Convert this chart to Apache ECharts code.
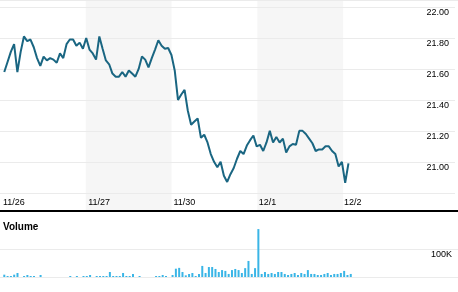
<!DOCTYPE html>
<html><head><meta charset="utf-8">
<script src="https://cdn.jsdelivr.net/npm/echarts@6/dist/echarts.min.js"></script>
<style>html,body{margin:0;padding:0;background:#fff}#c{width:458px;height:292px}</style>
</head><body><div id="c"></div>
<script>
// ---- data ----
const dayLabels = ['11/26', '11/27', '11/30', '12/1', '12/2'];
const shadedDays = [1, 3];            // indexes into dayLabels of shaded sessions
const slotsPerDay = 26;               // 15-minute intervals per session
const priceTickMin = 20.8, priceTickMax = 22.0, priceTickStep = 0.2;
const volumeTickLabel = '100K';
const price = [
  21.58, 21.645, 21.71, 21.76, 21.58, 21.71, 21.81, 21.78, 21.79, 21.74,
  21.67, 21.62, 21.68, 21.655, 21.67, 21.66, 21.64, 21.70, 21.67, 21.76,
  21.79, 21.79, 21.75, 21.77, 21.73, 21.80,
  21.725, 21.70, 21.66, 21.81, 21.73, 21.655, 21.63, 21.57, 21.55, 21.55,
  21.58, 21.55, 21.59, 21.57, 21.55, 21.60, 21.68, 21.66, 21.61, 21.67,
  21.725, 21.785, 21.75, 21.73, 21.735, 21.69,
  21.59, 21.40, 21.435, 21.465, 21.33, 21.24, 21.26, 21.28, 21.155, 21.175,
  21.125, 21.05, 21.00, 20.965, 21.00, 20.91, 20.87, 20.92, 20.96, 21.02,
  21.07, 21.05, 21.105, 21.14, 21.17, 21.10,
  21.11, 21.07, 21.125, 21.20, 21.125, 21.16, 21.125, 21.15, 21.06, 21.10,
  21.115, 21.11, 21.20, 21.20, 21.18, 21.15, 21.12, 21.07, 21.08, 21.08,
  21.10, 21.10, 21.07, 21.05, 20.97, 21.00,
  20.865, 20.99
];
const volumeK = [
  8.4, 3.6, 3.6, 8.4, 14.4, 0, 3.6, 7.2, 3.6, 3.6,
  0, 7.2, 0, 0, 0, 0, 0, 0, 0, 0,
  3.6, 0, 3.6, 0, 3.6, 3.6,
  7.2, 0, 3.6, 3.6, 3.6, 3.6, 18, 3.6, 3.6, 3.6,
  14.4, 3.6, 3.6, 10.8, 0, 3.6, 0, 0, 0, 0,
  3.6, 3.6, 7.2, 3.6, 0, 7.2,
  30, 33, 18, 6, 10.8, 14.4, 3.6, 10.8, 40, 14.4,
  36, 36, 29, 18, 25, 22, 11, 25, 29, 25,
  14.4, 32, 58, 11, 32, 173,
  11, 18, 11, 14.4, 11, 18, 18, 11, 7.2, 11,
  14.4, 7.2, 14.4, 11, 25, 11, 11, 7.2, 7.2, 11,
  14.4, 7.2, 11, 11, 14.4, 22,
  7.2, 11
];

// ---- layout ----
const SLOT_OFFSET = 1.3;
const X_MAX = 138.8;
const FONT = 'Arial, "Liberation Sans", sans-serif';
const GRID_COLOR = '#ebebeb';
const LINE_COLOR = '#1a6682';
const BAR_COLOR = '#3ab5e6';
const BAND_COLOR = '#f6f6f6';

const priceData = price.map((v, i) => [i + SLOT_OFFSET, v]);
const volumeData = volumeK.map((v, i) => [i + SLOT_OFFSET, v]);
const bandData = shadedDays.map(d => [d * slotsPerDay, (d + 1) * slotsPerDay]);

const hiddenX = (gi) => ({
  gridIndex: gi, type: 'value', min: 0, max: X_MAX,
  axisLine: {show: false}, axisTick: {show: false}, axisLabel: {show: false}, splitLine: {show: false}
});

const chart = echarts.init(document.getElementById('c'), null, {renderer: 'canvas'});
chart.setOption({
  animation: false,
  backgroundColor: '#fff',
  title: {
    text: 'Volume', left: 3, top: 222, padding: 0,
    textStyle: {fontSize: 10, fontWeight: 'bold', color: '#000', fontFamily: FONT}
  },
  grid: [
    {left: 0, right: 0, top: 0, height: 211},
    {left: 0, right: 0, top: 7, height: 185.8},
    {left: 0, right: 0, top: 249.3, height: 27.7}
  ],
  xAxis: [
    Object.assign(hiddenX(0), {
      axisLine: {show: true, onZero: false, lineStyle: {color: '#000', width: 2}}
    }),
    Object.assign(hiddenX(1), {
      interval: slotsPerDay,
      axisLabel: {
        show: true, margin: 5, align: 'left', padding: [0, 0, 0, 3],
        fontSize: 9, color: '#000', fontFamily: FONT,
        formatter: (v) => {
          const d = Math.round(v / slotsPerDay);
          return (Math.abs(v - d * slotsPerDay) < 0.01 && d < dayLabels.length) ? dayLabels[d] : '';
        }
      }
    }),
    hiddenX(2)
  ],
  yAxis: [
    {
      gridIndex: 0, type: 'value', min: 0, max: 1, interval: 1,
      axisLine: {show: false}, axisTick: {show: false}, axisLabel: {show: false},
      splitLine: {show: true, lineStyle: {color: GRID_COLOR, width: 1}}
    },
    {
      gridIndex: 1, type: 'value', position: 'right',
      min: priceTickMin, max: priceTickMax, interval: priceTickStep,
      axisLine: {show: false}, axisTick: {show: false},
      splitLine: {show: true, lineStyle: {color: GRID_COLOR, width: 1}},
      axisLabel: {
        inside: true, margin: 6, verticalAlign: 'top', padding: [1, 0, 0, 0],
        fontSize: 9, color: '#000', fontFamily: FONT,
        formatter: (v) => (v < priceTickMin + 0.01 ? '' : v.toFixed(2))
      }
    },
    {
      gridIndex: 2, type: 'value', position: 'right', min: 0, max: 100, interval: 100,
      axisLine: {show: false}, axisTick: {show: false},
      splitLine: {show: true, lineStyle: {color: GRID_COLOR, width: 1}},
      axisLabel: {
        inside: true, margin: 6, verticalAlign: 'top', padding: [1, 0, 0, 0],
        fontSize: 9, color: '#000', fontFamily: FONT,
        formatter: (v) => (v === 100 ? volumeTickLabel : '')
      }
    }
  ],
  series: [
    {
      type: 'custom', xAxisIndex: 0, yAxisIndex: 0, z: -1, silent: true,
      data: bandData,
      renderItem: (params, api) => {
        const p0 = api.coord([api.value(0), 1]);
        const p1 = api.coord([api.value(1), 0]);
        return {type: 'rect', shape: {x: p0[0], y: p0[1], width: p1[0] - p0[0], height: p1[1] - p0[1]},
          style: {fill: BAND_COLOR}};
      }
    },
    {
      type: 'line', xAxisIndex: 1, yAxisIndex: 1, data: priceData,
      symbol: 'none', smooth: false, clip: false,
      lineStyle: {color: LINE_COLOR, width: 2}
    },
    {
      type: 'bar', xAxisIndex: 2, yAxisIndex: 2, data: volumeData,
      barWidth: 2, clip: false, itemStyle: {color: BAR_COLOR}
    }
  ]
});
</script>
</body></html>
